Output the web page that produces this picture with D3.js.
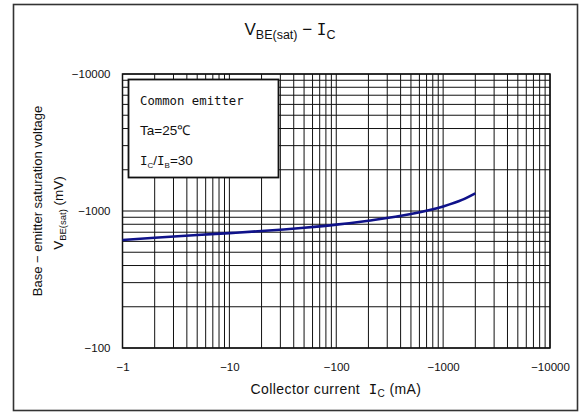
<!DOCTYPE html>
<html>
<head>
<meta charset="utf-8">
<script src="https://cdn.jsdelivr.net/npm/d3@7"></script>
<style>
  body { margin: 0; background: #fff; }
  svg { display: block; font-family: "Liberation Sans", Arial, sans-serif; }
</style>
</head>
<body>
<div id="chart"></div>
<script>
var width = 580,
    height = 413;

// collector current (mA) and base-emitter saturation voltage (mV)
var icValues  = [-1, -2, -5, -10, -20, -50, -100, -200, -500, -1000, -1500, -2000];
var vbeValues = [-614, -638, -668, -690, -714, -755, -795, -850, -950, -1080, -1205, -1346];

var xTickValues = [-1, -10, -100, -1000, -10000];
var yTickValues = [-100, -1000, -10000];
var legendLines = ["Common emitter", "Ta=25\u2103", "IC/IB=30"];

var plot = {left: 122.5, right: 550, top: 74, bottom: 348};

var x = d3.scaleLog()
    .domain([-1, -10000])
    .range([plot.left, plot.right]);

var y = d3.scaleLog()
    .domain([-100, -10000])
    .range([plot.bottom, plot.top]);

var fmt = function(d) { return "\u2212" + Math.abs(d); };

var svg = d3.select("#chart").append("svg")
    .attr("width", width)
    .attr("height", height);

// outer frame
svg.append("rect")
    .attr("x", 13.5).attr("y", 4.5)
    .attr("width", 564).attr("height", 406)
    .attr("fill", "none")
    .attr("stroke", "#333")
    .attr("stroke-width", 1.6);

// title
var title = svg.append("text")
    .attr("x", 290)
    .attr("y", 35)
    .attr("text-anchor", "middle")
    .style("font-size", "17px")
    .attr("fill", "#111");
title.append("tspan").text("V");
title.append("tspan").attr("dy", 4).style("font-size", "12.5px").text("BE(sat)");
title.append("tspan").attr("dy", -4).text(" \u2212 ");
title.append("tspan").style("font-family", "'DejaVu Sans Mono', monospace").style("font-size", "16px").text("I");
title.append("tspan").attr("dy", 4).style("font-size", "12.5px").text("C");

// grid: all decade sub-lines
var grid = svg.append("g").attr("class", "grid");

grid.selectAll("line.vx")
    .data(x.ticks())
    .enter().append("line")
    .attr("class", "vx")
    .attr("x1", function(d) { return x(d); })
    .attr("x2", function(d) { return x(d); })
    .attr("y1", plot.top)
    .attr("y2", plot.bottom)
    .attr("stroke", "#111")
    .attr("stroke-width", 1);

grid.selectAll("line.hy")
    .data(y.ticks())
    .enter().append("line")
    .attr("class", "hy")
    .attr("x1", plot.left)
    .attr("x2", plot.right)
    .attr("y1", function(d) { return y(d); })
    .attr("y2", function(d) { return y(d); })
    .attr("stroke", "#111")
    .attr("stroke-width", 1);

// plot border
svg.append("rect")
    .attr("x", plot.left)
    .attr("y", plot.top)
    .attr("width", plot.right - plot.left)
    .attr("height", plot.bottom - plot.top)
    .attr("fill", "none")
    .attr("stroke", "#111")
    .attr("stroke-width", 1.5);

// axes (labels only)
svg.append("g")
    .attr("transform", "translate(0," + plot.bottom + ")")
    .call(d3.axisBottom(x).tickValues(xTickValues).tickFormat(fmt).tickSize(0).tickPadding(15));

svg.append("g")
    .attr("transform", "translate(" + plot.left + ",0)")
    .call(d3.axisLeft(y).tickValues(yTickValues).tickFormat(fmt).tickSize(0).tickPadding(12));

svg.selectAll(".domain").remove();
svg.selectAll(".tick text")
    .style("font-size", "11.5px")
    .style("font-family", "'Liberation Sans', Arial, sans-serif")
    .attr("fill", "#111");

// legend box
var lg = svg.append("g");
lg.append("rect")
    .attr("x", 128.5).attr("y", 79.5)
    .attr("width", 150).attr("height", 98)
    .attr("fill", "#fff")
    .attr("stroke", "#111")
    .attr("stroke-width", 1.8);

lg.append("text")
    .attr("x", 140).attr("y", 105)
    .style("font-family", "'DejaVu Sans Mono', monospace")
    .style("font-size", "12.3px")
    .attr("fill", "#111")
    .text(legendLines[0]);

lg.append("text")
    .attr("x", 140).attr("y", 135)
    .style("font-size", "13.5px")
    .attr("fill", "#111")
    .text(legendLines[1]);

var ratio = lg.append("text")
    .attr("x", 140).attr("y", 165)
    .style("font-size", "13.5px")
    .attr("fill", "#111");
ratio.append("tspan").style("font-family", "'DejaVu Sans Mono', monospace").style("font-size", "12.5px").text("I");
ratio.append("tspan").attr("dy", 3).style("font-size", "8px").text("C");
ratio.append("tspan").attr("dy", -3).text("/");
ratio.append("tspan").style("font-family", "'DejaVu Sans Mono', monospace").style("font-size", "12.5px").text("I");
ratio.append("tspan").attr("dy", 3).style("font-size", "8px").text("B");
ratio.append("tspan").attr("dy", -3).text("=30");

// curve
var line = d3.line()
    .x(function(d) { return x(d[0]); })
    .y(function(d) { return y(d[1]); })
    .curve(d3.curveMonotoneX);

svg.append("path")
    .datum(d3.zip(icValues, vbeValues))
    .attr("d", line)
    .attr("fill", "none")
    .attr("stroke", "#0f128a")
    .attr("stroke-width", 2.6);

// x axis title
var xt = svg.append("text")
    .attr("x", 336)
    .attr("y", 394)
    .attr("text-anchor", "middle")
    .style("font-size", "14px")
    .style("letter-spacing", "0.4px")
    .attr("fill", "#111");
xt.append("tspan").text("Collector current\u00a0\u00a0");
xt.append("tspan").style("font-family", "'DejaVu Sans Mono', monospace").text("I");
xt.append("tspan").attr("dy", 3).style("font-size", "10px").text("C");
xt.append("tspan").attr("dy", -3).text("\u00a0(mA)");

// y axis title, two lines
svg.append("text")
    .attr("transform", "translate(42,201) rotate(-90)")
    .attr("text-anchor", "middle")
    .style("font-size", "13px")
    .attr("fill", "#111")
    .text("Base \u2212 emitter saturation voltage");

var yt = svg.append("text")
    .attr("transform", "translate(63,213) rotate(-90)")
    .attr("text-anchor", "middle")
    .style("font-size", "13.5px")
    .attr("fill", "#111");
yt.append("tspan").text("V");
yt.append("tspan").attr("dy", 3).style("font-size", "9.5px").text("BE(sat)");
yt.append("tspan").attr("dy", -3).text("\u00a0(mV)");
</script>
</body>
</html>
